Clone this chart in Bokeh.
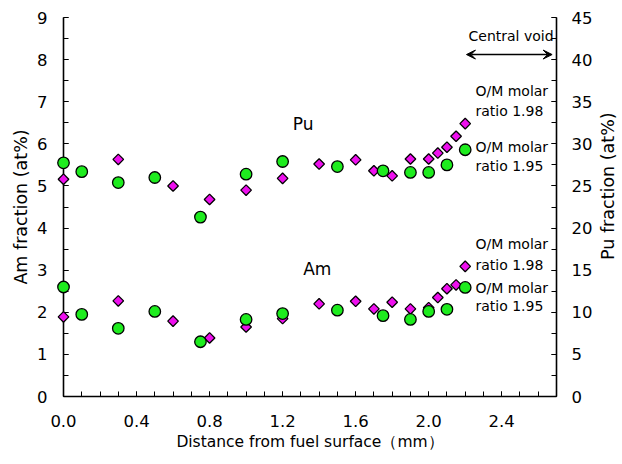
import math
from bokeh.plotting import figure
from bokeh.layouts import row
from bokeh.models import (Range1d, LinearAxis, FixedTicker, Label, Arrow, VeeHead,
                          NumeralTickFormatter, ColumnDataSource)
from bokeh.embed import file_html
from bokeh.resources import INLINE

FONT = "DejaVu Sans"

# O/M molar ratio 1.95 (green circles)
dist_195 = [0.0, 0.1, 0.3, 0.5, 0.75, 1.0, 1.2, 1.5, 1.75, 1.9, 2.0, 2.1, 2.2]
pu_195 = [27.75, 26.7, 25.4, 26.0, 21.3, 26.4, 27.9, 27.3, 26.8, 26.6, 26.6, 27.5, 29.3]
am_195 = [2.60, 1.95, 1.62, 2.02, 1.30, 1.83, 1.97, 2.05, 1.92, 1.83, 2.02, 2.07, 2.59]

# O/M molar ratio 1.98 (magenta diamonds)
dist_198 = [0.0, 0.3, 0.6, 0.8, 1.0, 1.2, 1.4, 1.6, 1.7, 1.8, 1.9, 2.0, 2.05, 2.1, 2.15, 2.2]
pu_198 = [25.8, 28.15, 25.0, 23.4, 24.5, 25.9, 27.6, 28.1, 26.8, 26.2, 28.2, 28.2, 28.9, 29.6, 30.9, 32.4]
am_198 = [1.89, 2.27, 1.79, 1.39, 1.65, 1.85, 2.20, 2.26, 2.08, 2.24, 2.08, 2.11, 2.35, 2.56, 2.65, 3.09]

x_ticks = [0.0, 0.4, 0.8, 1.2, 1.6, 2.0, 2.4]
x_minor = [round(i * 0.1, 1) for i in range(28)]
am_ticks = [0, 1, 2, 3, 4, 5, 6, 7, 8, 9]
am_minor = [i * 0.5 for i in range(19)]
pu_ticks = [0, 5, 10, 15, 20, 25, 30, 35, 40, 45]
pu_minor = [i * 2.5 for i in range(19)]

GREEN = "#1eec1e"
MAGENTA = "#ee10ee"

p = figure(width=596, height=464, x_range=Range1d(0, 2.7), y_range=Range1d(0, 9),
           output_backend="svg", toolbar_location=None,
           min_border_left=63, min_border_right=40, min_border_top=17, min_border_bottom=68)
p.extra_y_ranges = {"pu": Range1d(0, 45)}
p.xgrid.visible = False
p.ygrid.visible = False
p.outline_line_color = None
p.background_fill_color = "white"
p.border_fill_color = "white"

right = LinearAxis(y_range_name="pu")
p.add_layout(right, "right")

def style_axis(ax, ticks, minor, standoff):
    ax.ticker = FixedTicker(ticks=ticks, minor_ticks=minor)
    ax.axis_line_color = "black"
    ax.axis_line_width = 1.6
    ax.major_tick_in = 5
    ax.major_tick_out = 0
    ax.minor_tick_in = 5
    ax.minor_tick_out = 0
    ax.major_tick_line_color = "black"
    ax.minor_tick_line_color = "black"
    ax.major_tick_line_width = 1
    ax.minor_tick_line_width = 1
    ax.major_label_text_font = FONT
    ax.major_label_text_font_size = "16.5px"
    ax.major_label_text_color = "black"
    ax.major_label_standoff = standoff
    ax.axis_label_text_font = FONT
    ax.axis_label_text_font_size = "15px"
    ax.axis_label_text_font_style = "normal"
    ax.axis_label_text_color = "black"

xa = p.xaxis[0]
ya = p.yaxis[0]
style_axis(xa, x_ticks, x_minor, 18)
style_axis(ya, am_ticks, am_minor, 16)
style_axis(right, pu_ticks, pu_minor, 15)
xa.formatter = NumeralTickFormatter(format="0.0")
xa.axis_label = "Distance from fuel surface（mm）"
xa.axis_label_text_font_size = "15.5px"
xa.axis_label_standoff = 3
ya.axis_label = "Am fraction (at%)"
ya.axis_label_text_font_size = "17.5px"
ya.axis_label_standoff = 3

src195 = ColumnDataSource(dict(x=dist_195, pu=pu_195, am=am_195))
src198 = ColumnDataSource(dict(x=dist_198, pu=pu_198, am=am_198))

kw_d = dict(marker="square", size=7.5, angle=math.pi / 4, fill_color=MAGENTA,
            line_color="black", line_width=1.3, level="overlay")
kw_c = dict(marker="circle", size=11.5, fill_color=GREEN,
            line_color="black", line_width=1.3, level="overlay")

p.scatter("x", "pu", source=src198, y_range_name="pu", **kw_d)
p.scatter("x", "am", source=src198, **kw_d)
p.scatter("x", "pu", source=src195, y_range_name="pu", **kw_c)
p.scatter("x", "am", source=src195, **kw_c)

def lab(x, y, t, size="14px"):
    p.add_layout(Label(x=x, y=y, text=t, text_font=FONT, text_font_size=size,
                       text_align="left", text_baseline="middle", text_color="black"))

lab(1.256, 6.48, "Pu", "17px")
lab(1.313, 3.02, "Am", "17px")
lab(2.256, 7.25, "O/M molar")
lab(2.256, 6.79, "ratio 1.98")
lab(2.256, 5.92, "O/M molar")
lab(2.256, 5.47, "ratio 1.95")
lab(2.256, 3.61, "O/M molar")
lab(2.256, 3.13, "ratio 1.98")
lab(2.256, 2.58, "O/M molar")
lab(2.256, 2.14, "ratio 1.95")
lab(2.218, 8.55, "Central void")

p.add_layout(Arrow(start=VeeHead(size=9, fill_color="black", line_color="black"),
                   end=VeeHead(size=9, fill_color="black", line_color="black"),
                   x_start=2.207, y_start=8.12, x_end=2.676, y_end=8.12,
                   line_color="black", line_width=1.5))

# narrow strip on the right carrying the Pu axis title (reads bottom to top)
p2 = figure(width=26, height=464, x_range=Range1d(0, 26), y_range=Range1d(0, 464),
            output_backend="svg", toolbar_location=None, min_border=0,
            x_axis_location=None, y_axis_location=None)
p2.xgrid.visible = False
p2.ygrid.visible = False
p2.outline_line_color = None
p2.border_fill_color = "white"
p2.add_layout(Label(x=11, y=257.5, text="Pu fraction (at%)", angle=math.pi / 2,
                    text_font=FONT, text_font_size="17.5px", text_align="center",
                    text_baseline="middle", text_color="black"))

layout = row(p, p2, spacing=0)
open("out.html", "w").write(file_html(layout, INLINE))
